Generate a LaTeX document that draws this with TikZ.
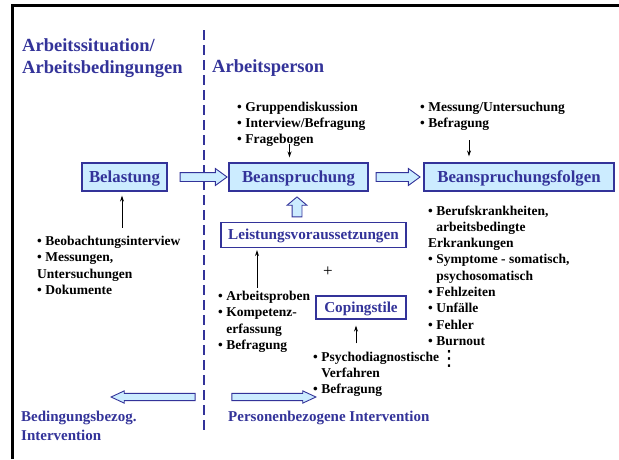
\documentclass[tikz,border=0pt]{standalone}
\usepackage{fontspec}
\setmainfont{Liberation Serif}
\newfontfamily\symbolfont{DejaVu Sans}
\usetikzlibrary{shapes.arrows, arrows.meta, positioning, calc}
\definecolor{titleblue}{RGB}{51,51,153}
\definecolor{boxblue}{RGB}{204,236,255}
\newcommand{\ind}{\hphantom{\textbullet\ }}
\tikzset{
    mainbox/.style={rectangle, draw=titleblue, line width=1.1pt, fill=boxblue,
                    inner sep=0pt, minimum height=28pt, text=titleblue,
                    text height=11.5pt, text depth=1.5pt,
                    font=\fontsize{16.8}{20}\selectfont\bfseries},
    subbox/.style={mainbox, fill=white, minimum height=25pt,
                   text height=10.5pt, text depth=1.5pt,
                   font=\fontsize{15.2}{18}\selectfont\bfseries},
    heading/.style={anchor=base west, inner sep=0pt, align=left, text=titleblue,
                    font=\fontsize{18.5}{22}\selectfont\bfseries},
    intervlbl/.style={heading, font=\fontsize{15}{19}\selectfont\bfseries},
    itemlist/.style={anchor=base west, inner sep=0pt, align=left,
                     font=\fontsize{13.5}{16.3}\selectfont\bfseries},
    blockarrow/.style={single arrow, draw=titleblue, line width=0.9pt, fill=boxblue,
                       inner sep=4pt, single arrow head extend=4pt,
                       single arrow tip angle=72, minimum height=47pt},
    slimarrow/.style={blockarrow, inner sep=3.2pt, single arrow head extend=2.5pt,
                      single arrow tip angle=50, minimum height=84pt},
    arrow/.style={-{Stealth[length=6pt,width=4pt]}, line width=0.8pt, shorten >=4pt},
    divider/.style={titleblue, line width=1.8pt, dash pattern=on 10pt off 5pt},
}

\begin{document}
\begin{tikzpicture}[x=1pt, y=-1pt]
    \useasboundingbox (0,0) rectangle (619,459);
    % frame and divider
    \draw[line width=3pt] (12,459) -- (12,5) -- (619,5);
    \draw[divider] (204,30) -- (204,430);

    % multi-line texts are placed by the baseline of their last line
    \node[heading] (sit) at (22,73) {Arbeitssituation/\\Arbeitsbedingungen};
    \node[heading] (pers) at (212,72) {Arbeitsperson};

    \node[mainbox, minimum width=85pt] (bel) at (124.5,177) {Belastung};
    \node[mainbox, minimum width=139pt] (bea) at (298.5,177) {Beanspruchung};
    \node[mainbox, minimum width=190pt] (fol) at (519,177) {Beanspruchungsfolgen};
    \node[subbox, minimum width=185pt] (lei) at (313.5,235) {Leistungsvoraussetzungen};
    \node[subbox, minimum width=90pt, minimum height=23pt] (cop) at (361,307.5) {Copingstile};
    \node[inner sep=0pt, font=\fontsize{17}{18}\selectfont] (plus) at (328,272) {+};

    % block arrows
    \node[blockarrow] (ar1) at (200.5,177) {};
    \node[blockarrow, minimum height=44pt] (ar2) at (395,177) {};
    \node[blockarrow, rotate=90, minimum height=20pt, inner sep=4.5pt,
          single arrow head extend=5pt, single arrow tip angle=100] (ar3) at (297,209) {};
    \node[slimarrow, shape border rotate=180] (ar4) at (157,397) {};
    \node[slimarrow] (ar5) at (270,397) {};

    % methods
    \node[itemlist] (grp) at (237,143.6)
        {\textbullet\ Gruppendiskussion\\\textbullet\ Interview/Befragung\\\textbullet\ Fragebogen};
    \node[itemlist] (mes) at (420,127.3)
        {\textbullet\ Messung/Untersuchung\\\textbullet\ Befragung};
    \node[itemlist] (beob) at (37,294.4)
        {\textbullet\ Beobachtungsinterview\\\textbullet\ Messungen,\\Untersuchungen\\\textbullet\ Dokumente};
    \node[itemlist] (arb) at (218,349.4)
        {\textbullet\ Arbeitsproben\\\textbullet\ Kompetenz-\\\ind erfassung\\\textbullet\ Befragung};
    \node[itemlist] (psy) at (313,393.6)
        {\textbullet\ Psychodiagnostische\\\ind Verfahren\\\textbullet\ Befragung};
    \node[itemlist] (ber) at (428,345.4)
        {\textbullet\ Berufskrankheiten,\\\ind arbeitsbedingte\\Erkrankungen\\
         \textbullet\ Symptome - somatisch,\\\ind psychosomatisch\\\textbullet\ Fehlzeiten\\
         \textbullet\ Unfälle\\\textbullet\ Fehler\\\textbullet\ Burnout};
    \node[inner sep=0pt, font=\fontsize{21}{21}\selectfont\symbolfont] (dots) at (449,359) {⋮};

    \node[intervlbl] (bedint) at (21,440) {Bedingungsbezog.\\Intervention};
    \node[intervlbl] (perint) at (228,421) {Personenbezogene Intervention};

    \draw[arrow] ($(bel.south |- beob.north)+(-2.5,-8)$) -- ($(bel.south)+(-2.5,0)$);
    \draw[arrow, shorten >=5pt] ($(bea.north |- grp.south)+(-9,-2.5)$) -- ($(bea.north)+(-9,0)$);
    \draw[arrow, shorten >=6pt] ($(fol.north |- mes.south)+(-50,10)$) -- ($(fol.north)+(-50,0)$);
    \draw[arrow, shorten >=2pt] ($(arb.north west)+(39,-3)$) -- ($(arb.north west |- lei.south)+(39,0)$);
    \draw[arrow, shorten >=6pt] ($(psy.north west)+(43,-8)$) -- ($(psy.north west |- cop.south)+(43,0)$);
\end{tikzpicture}
\end{document}
